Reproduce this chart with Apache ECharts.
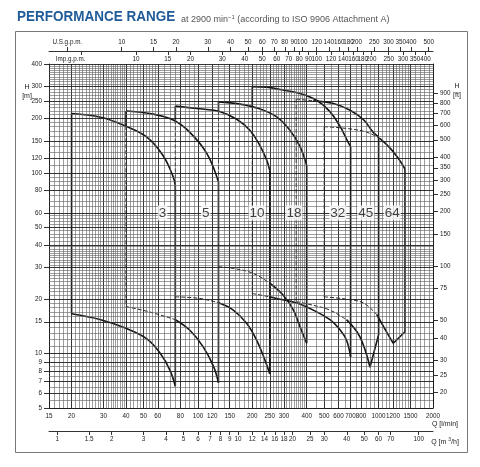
<!DOCTYPE html>
<html>
<head>
<meta charset="utf-8">
<script src="https://cdn.jsdelivr.net/npm/echarts@6/dist/echarts.min.js"></script>
<style>
html, body { margin: 0; padding: 0; background: #fff; }
#chart { width: 480px; height: 467px; }
</style>
</head>
<body>
<div id="chart"></div>
<script>
// pump envelopes, Q [l/min], H [m]
const up3 = [[20, 213], [29, 203], [40, 181], [52, 158], [64, 125], [73, 95], [75, 85]]
const low3 = [[20, 16.6], [29, 15.4], [40, 13.8], [52, 12.1], [62, 10.0], [70, 8.1], [75, 6.6]]
const up5 = [[40, 220], [54, 213], [73, 196], [90, 168], [112, 128], [130, 89]]
const low5 = [[40, 18.2], [54, 17.0], [75, 15.4], [90, 13.5], [107, 10.9], [122, 8.5], [130, 6.9]]
const up10 = [[75, 234], [102, 226], [133, 218], [164, 198], [194, 172], [220, 142], [240, 118], [250, 103]]
const low10 = [[75, 20.6], [102, 20.2], [130, 19.1], [157, 17.4], [186, 14.7], [211, 11.9], [235, 9.2], [250, 7.7]]
const up18 = [[130, 247], [171, 240], [220, 226], [273, 204], [323, 172], [367, 140], [400, 110]]
const low18 = [[130, 30.2], [157, 29.6], [202, 27.8], [250, 24.5], [296, 21.1], [338, 17.4], [367, 14.1], [400, 11.4]]
const up32 = [[200, 300], [240, 298], [285, 289], [367, 275], [454, 252], [538, 218], [613, 180], [678, 148], [700, 140]]
const low32 = [[200, 21.5], [250, 20.6], [285, 20.0], [350, 19.1], [435, 17.4], [538, 15.4], [613, 13.5], [664, 11.9], [700, 9.6]]
const up45 = [[350, 256], [435, 250], [563, 242], [696, 222], [828, 196], [932, 168], [1000, 158]]
const low45 = [[350, 19.4], [435, 18.5], [538, 17.4], [664, 15.4], [787, 12.4], [896, 8.4]]
const up64 = [[500, 180], [664, 176], [858, 168], [1015, 155], [1158, 137], [1287, 120], [1400, 105]]
const low64 = [[500, 20.6], [664, 20.0], [828, 19.0], [978, 16.4], [1106, 13.2], [1206, 11.4]]

const pumpNames = ['3', '5', '10', '18', '32', '45', '64']
const upCurves = [up3, up5, up10, up18, up32, up45, up64]
const lowCurves = [low3, low5, low10, low18, low32, low45, low64]
// where the left edge turns dashed (H), and how far upper / lower curves run dashed (Q)
const edgeBreaks = [null, 181, 195, 219, 232, 256, 180]
const upDashTo = [null, null, null, null, null, 435, 1015]
const lowDashTo = [null, 75, 130, 250, 250, 664, 978]
const corners = [null, null, null, null, null, [1000, 12.7], [1400, 13.2]]

// axis tick labels
const qLabels = [15, 20, 30, 40, 50, 60, 80, 100, 120, 150, 200, 250, 300, 400, 500, 600, 700, 800, 1000, 1200, 1500, 2000]
const hLabels = [5, 6, 7, 8, 9, 10, 15, 20, 30, 40, 50, 60, 80, 100, 120, 150, 200, 250, 300, 400]
const ftLabels = [20, 25, 30, 40, 50, 75, 100, 150, 200, 250, 300, 350, 400, 500, 600, 700, 800, 900]
const m3hLabels = [1, 1.5, 2, 3, 4, 5, 6, 7, 8, 9, 10, 12, 14, 16, 18, 20, 25, 30, 40, 50, 60, 70, 100]
const usLabels = [5, 10, 15, 20, 30, 40, 50, 60, 70, 80, 90, 100, 120, 140, 160, 180, 200, 250, 300, 350, 400, 500]
const impLabels = [5, 10, 15, 20, 30, 40, 50, 60, 70, 80, 90, 100, 120, 140, 160, 180, 200, 250, 300, 350, 400]

const USG = 0.264172, IMP = 0.219969, M3H = 0.06, FT = 1 / 0.3048

function range(a, b, step) {
  const out = []
  for (let v = a; v <= b + 1e-9; v += step) out.push(Math.round(v * 100) / 100)
  return out
}
const qGrid = [...new Set([...range(15, 40, 1), ...range(40, 60, 2), ...range(60, 100, 5), ...range(100, 400, 10), ...range(400, 1500, 50), ...range(1500, 2000, 100)])]
const hGrid = [...new Set([...range(5, 10, 0.5), ...range(10, 40, 1), ...range(40, 60, 2), ...range(60, 100, 5), ...range(100, 400, 10)])]

const minorStyle = { color: '#5c5c5c', width: 0.6, type: 'solid' }
const majorStyle = { color: '#1e1e1e', width: 0.9, type: 'solid' }
const gridData = [
  ...qGrid.map(v => ({ xAxis: v, lineStyle: qLabels.includes(v) ? majorStyle : minorStyle })),
  ...hGrid.map(v => ({ yAxis: v, lineStyle: hLabels.includes(v) ? majorStyle : minorStyle }))
]

const segs = []
function splitCurve(c, to) {
  if (to === null) { segs.push({ d: c, dash: false, smooth: true }); return }
  segs.push({ d: c.filter(p => p[0] <= to), dash: true, smooth: true })
  segs.push({ d: c.filter(p => p[0] >= to), dash: false, smooth: true })
}
pumpNames.forEach((name, i) => {
  const up = upCurves[i], low = lowCurves[i]
  const qMin = up[0][0]
  const brk = edgeBreaks[i]
  if (brk === null) {
    segs.push({ d: [[qMin, up[0][1]], [qMin, low[0][1]]], dash: false })
  } else {
    if (brk < up[0][1]) segs.push({ d: [[qMin, up[0][1]], [qMin, brk]], dash: false })
    segs.push({ d: [[qMin, brk], [qMin, low[0][1]]], dash: true })
  }
  splitCurve(up, upDashTo[i])
  splitCurve(low, lowDashTo[i])
  const right = [up[up.length - 1]]
  if (corners[i]) right.push(corners[i])
  right.push(low[low.length - 1])
  segs.push({ d: right, dash: false })
})

const font = '"Liberation Sans", Arial, sans-serif'
const tickFmt = v => String(Math.round(v * 100) / 100)

const series = [{
  type: 'line', name: 'grid', data: [[15, 5]], symbol: 'none', z: 1, silent: true,
  lineStyle: { opacity: 0 },
  markLine: { silent: true, symbol: ['none', 'none'], label: { show: false }, animation: false, data: gridData }
}]
segs.forEach(s => {
  series.push({
    type: 'line', data: s.d, symbol: 'none', z: 3, silent: true,
    smooth: s.smooth ? 0.4 : false,
    lineStyle: s.dash
      ? { color: '#222', width: 1, type: [4, 2] }
      : { color: '#141414', width: 1.6, type: 'solid' }
  })
})
series.push({
  type: 'scatter', z: 5, silent: true, symbolSize: 1,
  itemStyle: { color: 'rgba(0,0,0,0)' },
  data: pumpNames.map((n, i) => ({ name: n, value: [upCurves[i][upCurves[i].length - 1][0] * 0.85, 60] })),
  label: {
    show: true, position: 'inside', formatter: '{b}', fontSize: 13.5, color: '#111',
    fontFamily: font, backgroundColor: '#fff', padding: [1, 1, 0, 1]
  }
})

const axisText = { fontSize: 6.3, color: '#1a1a1a', fontFamily: font }
const chart = echarts.init(document.getElementById('chart'))
chart.setOption({
  animation: false,
  backgroundColor: '#fff',
  grid: { left: 49, top: 64, width: 384, height: 344 },
  xAxis: [
    {
      type: 'log', min: 15, max: 2000, position: 'bottom',
      axisLine: { show: true, lineStyle: { color: '#222', width: 1 } },
      axisTick: { show: false }, splitLine: { show: false },
      axisLabel: { ...axisText, customValues: qLabels, margin: 5, formatter: tickFmt }
    },
    {
      type: 'log', min: 15 * M3H, max: 2000 * M3H, position: 'bottom', offset: 23,
      axisLine: { show: true, lineStyle: { color: '#333', width: 1 } },
      axisTick: { show: true, length: 4, customValues: m3hLabels, lineStyle: { color: '#333' } },
      splitLine: { show: false },
      axisLabel: { ...axisText, customValues: m3hLabels, margin: 5, formatter: tickFmt }
    },
    {
      type: 'log', min: 15 * USG, max: 2000 * USG, position: 'top', offset: 13,
      axisLine: { show: true, lineStyle: { color: '#333', width: 1 } },
      axisTick: { show: true, length: 4, customValues: usLabels, lineStyle: { color: '#333' } },
      splitLine: { show: false },
      axisLabel: { ...axisText, customValues: usLabels, margin: 6, formatter: v => v === 5 ? 'U.S.g.p.m.' : tickFmt(v) }
    },
    {
      type: 'log', min: 15 * IMP, max: 2000 * IMP, position: 'top', offset: 13,
      axisLine: { show: false },
      axisTick: { show: true, inside: true, length: 4, customValues: impLabels, lineStyle: { color: '#333' } },
      splitLine: { show: false },
      axisLabel: {
        ...axisText, inside: true, customValues: impLabels, margin: 5,
        formatter: v => v === 5 ? '{n|Imp.g.p.m.}' : tickFmt(v),
        rich: { n: { fontSize: 6.3, fontFamily: font, color: '#1a1a1a', padding: [0, 22, 0, 0] } }
      }
    }
  ],
  yAxis: [
    {
      type: 'log', min: 5, max: 400, position: 'left',
      axisLine: { show: true, lineStyle: { color: '#222', width: 1 } },
      axisTick: { show: true, length: 5, customValues: hLabels, lineStyle: { color: '#333' } },
      splitLine: { show: false },
      axisLabel: { ...axisText, customValues: hLabels, margin: 7, formatter: tickFmt }
    },
    {
      type: 'log', min: 5 * FT, max: 400 * FT, position: 'right',
      axisLine: { show: true, lineStyle: { color: '#222', width: 1 } },
      axisTick: { show: true, length: 5, customValues: ftLabels, lineStyle: { color: '#333' } },
      splitLine: { show: false },
      axisLabel: { ...axisText, customValues: ftLabels, margin: 7, formatter: tickFmt }
    }
  ],
  graphic: [
    { type: 'rect', shape: { x: 15.5, y: 31.5, width: 452, height: 421 }, style: { fill: 'none', stroke: '#777', lineWidth: 1 }, silent: true },
    { type: 'text', left: 17, top: 9, scaleY: 1.15, style: { text: 'PERFORMANCE RANGE', fontSize: 13.5, fontWeight: 'bold', fontFamily: font, fill: '#1f5b98' } },
    {
      type: 'text', left: 181, top: 14,
      style: {
        text: 'at 2900 min{s|−1} (according to ISO 9906 Attachment A)', fontSize: 9, fontFamily: font, fill: '#555',
        rich: { s: { fontSize: 6, fontFamily: font, fill: '#555', padding: [0, 0, 5, 0] } }
      }
    },
    { type: 'text', x: 27, y: 87, style: { text: 'H', align: 'center', verticalAlign: 'middle', fontSize: 7, fontFamily: font, fill: '#222' } },
    { type: 'text', x: 27, y: 96, style: { text: '[m]', align: 'center', verticalAlign: 'middle', fontSize: 7, fontFamily: font, fill: '#222' } },
    { type: 'text', x: 457, y: 86, style: { text: 'H', align: 'center', verticalAlign: 'middle', fontSize: 7, fontFamily: font, fill: '#222' } },
    { type: 'text', x: 457, y: 95, style: { text: '[ft]', align: 'center', verticalAlign: 'middle', fontSize: 7, fontFamily: font, fill: '#222' } },
    { type: 'text', x: 445, y: 424, style: { text: 'Q [l/min]', align: 'center', verticalAlign: 'middle', fontSize: 7, fontFamily: font, fill: '#222' } },
    {
      type: 'text', x: 445, y: 442,
      style: {
        text: 'Q [m {s|3}/h]', align: 'center', verticalAlign: 'middle', fontSize: 7, fontFamily: font, fill: '#222',
        rich: { s: { fontSize: 5, fontFamily: font, fill: '#222', padding: [0, 0, 4, 0] } }
      }
    }
  ],
  series
})
</script>
</body>
</html>
